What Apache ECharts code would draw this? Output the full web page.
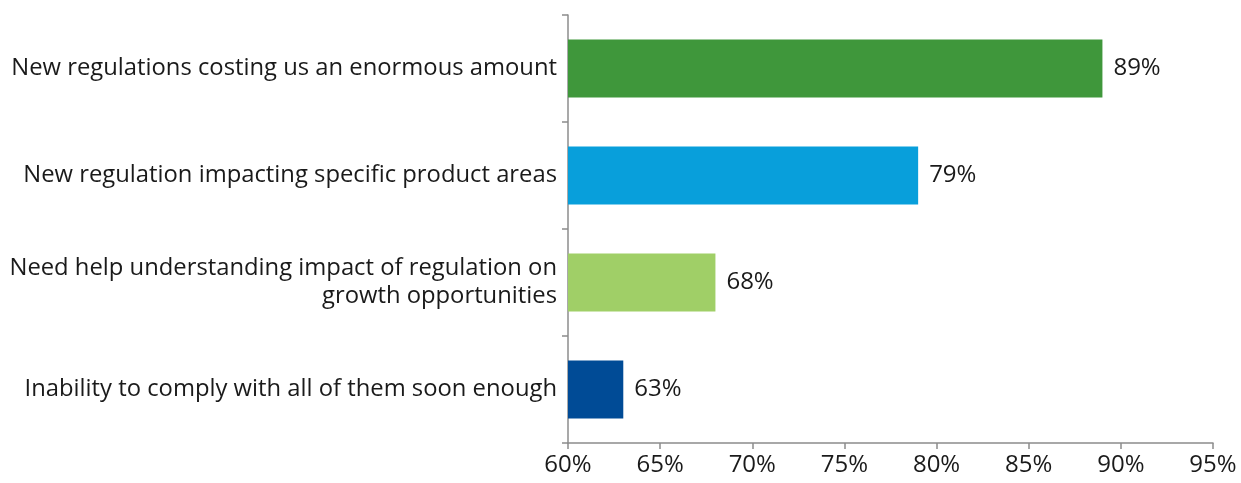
<!DOCTYPE html>
<html>
<head>
<meta charset="utf-8">
<script src="https://cdn.jsdelivr.net/npm/echarts@6/dist/echarts.min.js"></script>
<style>
  html, body { margin: 0; padding: 0; background: #fff; }
  #chart { width: 1241px; height: 483px; }
</style>
</head>
<body>
<div id="chart"></div>
<script>
// Survey concerns about regulation, share of respondents (%)
const categories = [
  'New regulations costing us an enormous amount',
  'New regulation impacting specific product areas',
  'Need help understanding impact of regulation on\ngrowth opportunities',
  'Inability to comply with all of them soon enough'
];
const values = [89, 79, 68, 63];
const barColors = ['#3f973b', '#089fdb', '#a0cf67', '#004b96'];
const axisMin = 60;
const axisMax = 95;
const axisStep = 5;

const font = '"Open Sans", "Noto Sans", sans-serif';
const axisGrey = '#8c8c8c';

const chart = echarts.init(document.getElementById('chart'), null, { renderer: 'canvas' });
chart.setOption({
  animation: false,
  backgroundColor: '#ffffff',
  grid: { left: 568, right: 28, top: 15, bottom: 40, containLabel: false },
  xAxis: {
    type: 'value',
    min: axisMin,
    max: axisMax,
    interval: axisStep,
    axisLine: { show: true, lineStyle: { color: axisGrey, width: 1.5 } },
    axisTick: { show: true, length: 6, lineStyle: { color: axisGrey, width: 1.5 } },
    splitLine: { show: false },
    axisLabel: {
      formatter: v => v + '%',
      color: '#1a1a1a',
      fontFamily: font,
      fontSize: 24,
      margin: 10
    }
  },
  yAxis: {
    type: 'category',
    data: categories,
    inverse: true,
    axisLine: { show: true, lineStyle: { color: axisGrey, width: 1.5 } },
    axisTick: { show: true, length: 6, alignWithLabel: false, lineStyle: { color: axisGrey, width: 1.5 } },
    axisLabel: {
      color: '#1a1a1a',
      fontFamily: font,
      fontSize: 23.8,
      lineHeight: 28,
      margin: 11,
      align: 'right'
    }
  },
  series: [{
    type: 'bar',
    data: values.map((v, i) => ({ value: v, itemStyle: { color: barColors[i] } })),
    barWidth: '54%',
    label: {
      show: true,
      position: 'right',
      distance: 11,
      formatter: p => p.value + '%',
      color: '#1a1a1a',
      fontFamily: font,
      fontSize: 24
    }
  }]
});
</script>
</body>
</html>
